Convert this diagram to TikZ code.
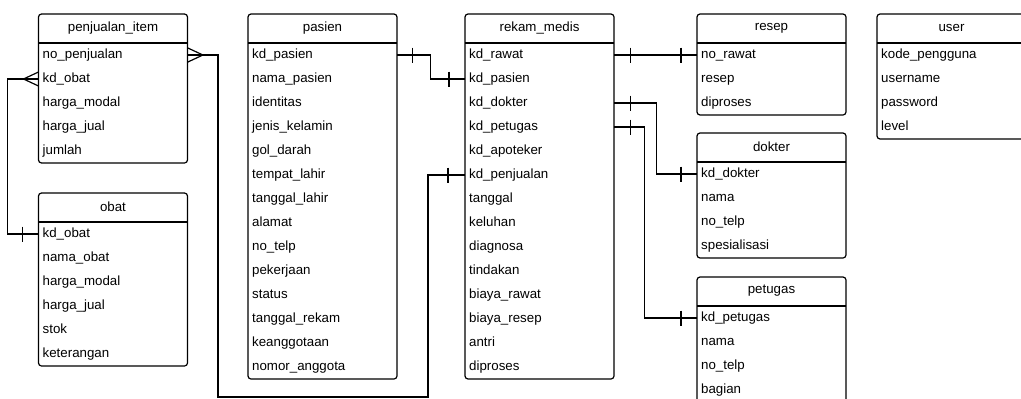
\documentclass[tikz,border=0pt]{standalone}
\usepackage{fontspec}
\setmainfont{Liberation Sans}
\usetikzlibrary{positioning, calc}

% one table: name, x, y, title, fields
\newcommand{\entity}[5]{%
    \foreach \f [count=\i] in {#5} {\xdef\nrows{\i}}%
    \node[entity, minimum height={(29+24*\nrows)*1pt}] (#1) at (#2,#3) {};
    \node[entitytitle] (#1-title) at ([yshift=-14pt]#1.north) {#4};
    \draw[rel] ([yshift=-29pt]#1.north west) -- ([yshift=-29pt]#1.north east);
    \foreach \f [count=\i] in {#5}
        \node[field] (#1-\i) at ([yshift={-17pt-24pt*\i}]#1.north west) {\f};
}
% "one" bar and "many" crow's foot
\newcommand{\onemark}[2]{\draw[rel] ([xshift=#2]#1) ++(0,-7.5) -- ++(0,15);}
\newcommand{\manymark}[2]{\draw[rel] ([yshift=7pt]#1) -- ([xshift=#2]#1) -- ([yshift=-7pt]#1);}

\begin{document}
\begin{tikzpicture}[
    x=1pt, y=-1pt,
    font=\fontsize{13.3}{16}\selectfont,
    rel/.style={line width=1.2pt},
    entity/.style={draw, line width=1.2pt, rounded corners=3pt, anchor=north west,
        minimum width=149pt, inner sep=0pt, outer sep=0pt},
    entitytitle/.style={inner sep=0pt},
    field/.style={anchor=west, text width=141pt, inner xsep=4pt, inner ysep=0pt,
        align=left, text height=9.5pt, text depth=3pt}
]
    \useasboundingbox (0,0) rectangle (1021,399);

    % Tables
    \entity{item}{38.5}{14}{penjualan\_item}{no\_penjualan, kd\_obat, harga\_modal, harga\_jual, jumlah}
    \entity{obat}{38.5}{193}{obat}{kd\_obat, nama\_obat, harga\_modal, harga\_jual, stok, keterangan}
    \entity{pasien}{248}{14}{pasien}{kd\_pasien, nama\_pasien, identitas, jenis\_kelamin, gol\_darah,
        tempat\_lahir, tanggal\_lahir, alamat, no\_telp, pekerjaan, status, tanggal\_rekam,
        keanggotaan, nomor\_anggota}
    \entity{rekam}{465}{14}{rekam\_medis}{kd\_rawat, kd\_pasien, kd\_dokter, kd\_petugas,
        kd\_apoteker, kd\_penjualan, tanggal, keluhan, diagnosa, tindakan, biaya\_rawat,
        biaya\_resep, antri, diproses}
    \entity{resep}{697}{14}{resep}{no\_rawat, resep, diproses}
    \entity{user}{877}{14}{user}{kode\_pengguna, username, password, level}
    \entity{dokter}{697}{133}{dokter}{kd\_dokter, nama, no\_telp, spesialisasi}
    \entity{petugas}{697}{277}{petugas}{kd\_petugas, nama, no\_telp, bagian}

    % Relations

    % penjualan_item - rekam_medis
    \draw[rel] (item-1.east) -| ++(30,342) -| ([xshift=-37pt]rekam-6.west) -- (rekam-6.west);
    \manymark{item-1.east}{15pt}
    \onemark{rekam-6.west}{-17pt}

    % penjualan_item - obat
    \draw[rel] (item-2.west) -- ++(-31,0) |- (obat-1.west);
    \manymark{item-2.west}{-15pt}
    \onemark{obat-1.west}{-16pt}

    % pasien - rekam_medis
    \draw[rel] (pasien-1.east) -- ++(33,0) |- (rekam-2.west);
    \onemark{pasien-1.east}{15pt}
    \onemark{rekam-2.west}{-16pt}

    % rekam_medis - resep
    \draw[rel] (rekam-1.east) -- (resep-1.west);
    \onemark{rekam-1.east}{16pt}
    \onemark{resep-1.west}{-16pt}

    % rekam_medis - dokter
    \draw[rel] (rekam-3.east) -- ++(42,0) |- (dokter-1.west);
    \onemark{rekam-3.east}{16pt}
    \onemark{dokter-1.west}{-16pt}

    % rekam_medis - petugas
    \draw[rel] (rekam-4.east) -- ++(30,0) |- (petugas-1.west);
    \onemark{rekam-4.east}{16pt}
    \onemark{petugas-1.west}{-16pt}

\end{tikzpicture}
\end{document}
